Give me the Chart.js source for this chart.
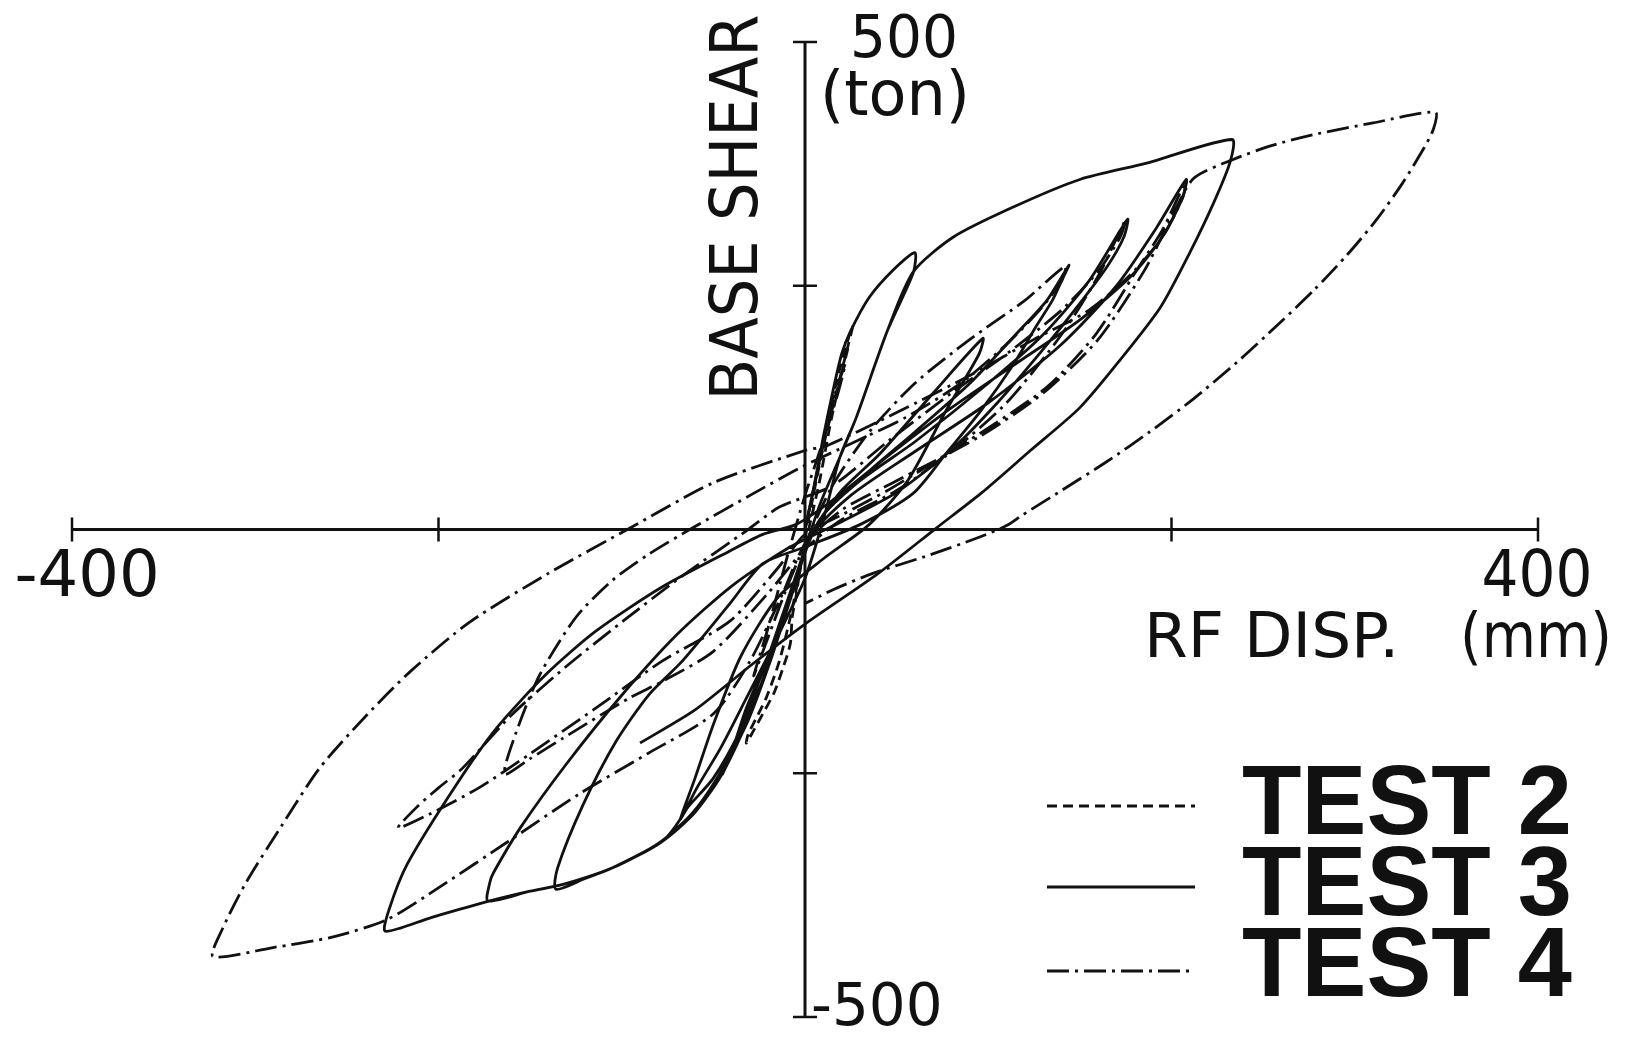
<!DOCTYPE html>
<html>
<head>
<meta charset="utf-8">
<title>Base shear vs RF displacement</title>
<script src="https://cdn.jsdelivr.net/npm/chart.js@4.4.0/dist/chart.umd.min.js"></script>
<style>
  html, body { margin: 0; padding: 0; background: #fff; }
  #wrap { width: 1631px; height: 1038px; }
</style>
</head>
<body>
<div id="wrap"><canvas id="chart" width="1631" height="1038"></canvas></div>
<script>
// [RF disp (mm), base shear (ton)], in loading order
const test2 = [
  [0, 0], [4, 35], [9, 80], [14, 125], [19, 165], [24, 198], [26, 208], [23, 185], [17, 140], [10, 85],
  [4, 30], [0, -10], [-3, -45], [-5, -70], [-7, -90], [-8, -117], [-12, -142], [-17, -168], [-23, -189],
  [-28, -206], [-32, -219], [-31, -210], [-27, -195], [-21, -172], [-14, -135], [-8, -90], [-3, -45],
  [2, 0], [8, 50], [14, 110], [20, 160], [24, 190]
];

const test3 = [
  [0, 0], [5, 45], [10, 95], [15, 140], [20, 180], [25, 204], [35, 238], [48, 266], [60, 284],
  [59, 263], [45, 204], [28, 115], [19, 74], [8, 25], [0, -20], [-10, -75], [-20, -130], [-30, -180], [-38, -220], [-45, -251],
  [-40, -228], [-32, -183], [-18, -121], [-6, -55], [5, 0], [20, 40], [41, 78], [70, 140], [97, 196],
  [95, 180], [77, 122], [56, 50], [35, 5], [10, -30], [-15, -70], [-35, -130], [-50, -200], [-60, -255], [-68, -297],
  [-64, -285], [-50, -255], [-35, -205], [-20, -140], [-8, -70], [0, -20], [12, 20], [35, 60], [60, 100], [90, 150], [115, 200], [132, 235], [144, 271],
  [140, 255], [135, 235], [126, 208], [114, 170], [96, 122], [77, 78], [59, 37], [30, 5], [0, -18], [-23, -35], [-41, -76],
  [-67, -135], [-85, -169], [-103, -217], [-121, -282], [-135, -347], [-136, -369],
  [-120, -358], [-105, -347], [-78, -320], [-60, -290], [-45, -250], [-30, -190], [-15, -110], [-3, -40], [8, 10], [30, 50],
  [60, 90], [100, 150], [130, 200], [155, 255], [176, 318],
  [174, 300], [165, 270], [150, 232], [130, 185], [105, 130], [80, 82], [50, 38], [20, 8], [-10, -20], [-40, -58], [-70, -108],
  [-100, -170], [-130, -240], [-155, -305], [-170, -352], [-172, -362], [-173, -381],
  [-150, -371], [-132, -364], [-105, -347], [-80, -322], [-62, -292], [-48, -255], [-32, -200], [-18, -130], [-6, -60], [4, -5],
  [25, 35], [60, 80], [100, 130], [140, 190], [170, 250], [192, 310], [208, 359],
  [206, 340], [195, 300], [178, 260], [150, 215], [115, 170], [80, 125], [45, 75], [15, 30], [-5, 5], [-23, -5], [-41, -22],
  [-78, -59], [-114, -104], [-141, -148], [-168, -203], [-190, -261], [-217, -343], [-227, -390], [-229, -412],
  [-204, -398], [-172, -381], [-150, -371], [-132, -364], [-105, -347], [-78, -320], [-68, -297], [-59, -265], [-46, -224],
  [-32, -173], [-15, -110], [0, -50], [10, 10], [19, 74], [28, 115], [45, 204], [59, 264], [81, 300], [114, 331], [150, 359],
  [187, 376], [233, 400],
  [232, 377], [223, 335], [210, 284], [194, 228], [172, 174], [150, 125], [123, 81], [96, 37], [72, 2], [40, -45], [0, -97],
  [-30, -140], [-60, -185], [-90, -219]
];

const test4 = [
  [0, 0], [8, 70], [15, 130], [22, 170], [18, 140], [8, 80], [0, 35], [-10, -30], [-20, -100], [-28, -150],
  [-22, -120], [-10, -60], [0, -15], [15, 45], [35, 100], [60, 150], [90, 195], [120, 235], [142, 270],
  [140, 255], [128, 225], [110, 190], [85, 150], [55, 115], [25, 88], [-3, 63], [-30, 35], [-61, 2], [-85, -25],
  [-105, -52], [-125, -90], [-145, -150], [-158, -210], [-164, -251],
  [-150, -235], [-132, -214], [-96, -173], [-77, -155], [-50, -125], [-20, -65], [0, -20], [20, 10], [50, 40], [80, 80],
  [110, 130], [140, 200], [160, 260], [175, 318],
  [172, 300], [160, 265], [140, 225], [110, 180], [80, 140], [45, 90], [15, 45], [-14, 23], [-31, 0], [-68, -49],
  [-100, -95], [-130, -140], [-160, -190], [-187, -245], [-200, -265], [-212, -285], [-222, -306],
  [-205, -292], [-178, -265], [-150, -230], [-114, -183], [-78, -135], [-41, -94], [-15, -40], [0, -5], [20, 15], [45, 40],
  [66, 64], [95, 98], [132, 146], [159, 201], [181, 266], [195, 307], [208, 358],
  [206, 340], [195, 300], [178, 262], [155, 225], [125, 195], [92, 160], [50, 120], [12, 86], [0, 81], [-50, 48], [-95, 2],
  [-140, -45], [-183, -95], [-215, -145], [-240, -192], [-265, -245], [-286, -305], [-305, -362], [-318, -410], [-323, -438],
  [-291, -429], [-258, -418], [-228, -400], [-198, -365], [-162, -320], [-123, -271], [-86, -230], [-50, -189], [-30, -135],
  [-12, -65], [0, -15], [20, 20], [50, 50], [95, 95], [130, 140], [160, 195], [185, 265], [200, 320], [212, 360], [233, 379],
  [255, 394], [280, 406], [310, 417], [344, 428],
  [343, 411], [338, 392], [326, 355], [312, 318], [296, 282], [278, 246], [258, 210], [236, 172], [212, 134], [188, 100],
  [165, 70], [140, 40], [118, 14], [110, 4], [95, -8], [65, -28], [37, -45], [15, -62], [0, -76]
];

const seriesNames = ['TEST 2', 'TEST 3', 'TEST 4'];
const xTicks = [-400, -200, 200, 400];
const yTicks = [500, 250, -250, -500];
const xTickLabels = ['-400', '', '', '400'];
const yTickLabels = ['500', '', '', '-500'];
const xTitle = ['RF DISP.', '(mm)'];
const yTitle = ['BASE SHEAR', '(ton)'];

const ink = '#111';
const labelFont = '"DejaVu Sans", sans-serif';

function toPoints(arr) {
  return arr.map(p => ({ x: p[0], y: p[1] }));
}

function lineSet(label, arr, dash) {
  return {
    label: label,
    data: toPoints(arr),
    showLine: true,
    borderColor: ink,
    borderWidth: 2.8,
    borderDash: dash,
    borderCapStyle: 'butt',
    borderJoinStyle: 'round',
    pointRadius: 0,
    fill: false,
    tension: 0.25
  };
}

function text(ctx, str, x, y, size, maxW, opts) {
  opts = opts || {};
  ctx.font = (opts.bold ? 'bold ' : '') + size + 'px ' + (opts.family || labelFont);
  ctx.textAlign = opts.align || 'left';
  ctx.textBaseline = 'alphabetic';
  ctx.fillText(str, x, y, maxW);
}

// draws the crossing axes, tick marks, labels and the legend from the chart's scales
const crossAxes = {
  id: 'crossAxes',
  beforeDatasetsDraw(chart) {
    const { ctx, scales: { x, y } } = chart;
    const x0 = x.getPixelForValue(0);
    const y0 = y.getPixelForValue(0);
    ctx.save();
    ctx.strokeStyle = ink;
    ctx.lineWidth = 3;
    ctx.beginPath();
    ctx.moveTo(x.getPixelForValue(x.min), y0);
    ctx.lineTo(x.getPixelForValue(x.max), y0);
    ctx.moveTo(x0, y.getPixelForValue(y.max));
    ctx.lineTo(x0, y.getPixelForValue(y.min));
    ctx.stroke();
    ctx.lineWidth = 2.5;
    ctx.beginPath();
    xTicks.forEach(v => {
      const px = x.getPixelForValue(v);
      ctx.moveTo(px, y0 - 12);
      ctx.lineTo(px, y0 + 12);
    });
    yTicks.forEach(v => {
      const py = y.getPixelForValue(v);
      ctx.moveTo(x0 - 12, py);
      ctx.lineTo(x0 + 12, py);
    });
    ctx.stroke();
    ctx.restore();
  },
  afterDraw(chart) {
    const { ctx, scales: { x, y } } = chart;
    const x0 = x.getPixelForValue(0);
    const y0 = y.getPixelForValue(0);
    ctx.save();
    ctx.fillStyle = ink;

    // x tick labels
    xTicks.forEach((v, i) => {
      const s = xTickLabels[i];
      if (!s) return;
      const px = x.getPixelForValue(v);
      text(ctx, s, px + (v < 0 ? 15 : -1), y0 + 66, 64, s.length * 37, { align: 'center' });
    });
    // y tick labels
    yTicks.forEach((v, i) => {
      const s = yTickLabels[i];
      if (!s) return;
      const py = y.getPixelForValue(v);
      if (v > 0) text(ctx, s, x0 + 45, py + 15, 58, 108);
      else text(ctx, s, x0 + 6, py + 8, 58, 148);
    });

    // axis titles
    const xr = x.getPixelForValue(x.max);
    text(ctx, xTitle[0], xr - 394, y0 + 127, 63, 258);
    text(ctx, xTitle[1], xr - 78, y0 + 127, 63, 152);
    text(ctx, yTitle[1], x0 + 15, y.getPixelForValue(y.max) + 73, 62, 153);
    ctx.save();
    ctx.translate(x0 - 48, y0 - 129);
    ctx.rotate(-Math.PI / 2);
    text(ctx, yTitle[0], 0, 0, 66, 386);
    ctx.restore();

    // legend
    const area = chart.chartArea;
    chart.data.datasets.forEach((ds, i) => {
      const base = area.bottom - 183 + i * 81;
      const ly = base - 28 + (i === 2 ? 3 : 0);
      ctx.save();
      ctx.strokeStyle = ink;
      ctx.lineWidth = ds.borderWidth;
      ctx.setLineDash(ds.borderDash || []);
      ctx.beginPath();
      ctx.moveTo(area.right - 491, ly);
      ctx.lineTo(area.right - 343, ly);
      ctx.stroke();
      ctx.restore();
      text(ctx, ds.label, area.right - 296, base, 98, 330, { bold: true, family: '"Liberation Sans", Arial, sans-serif' });
    });
    ctx.restore();
  }
};

new Chart(document.getElementById('chart'), {
  type: 'scatter',
  data: {
    datasets: [
      lineSet(seriesNames[0], test2, [10, 6]),
      lineSet(seriesNames[1], test3, []),
      lineSet(seriesNames[2], test4, [22, 6, 3, 6])
    ]
  },
  options: {
    responsive: false,
    animation: false,
    devicePixelRatio: 1,
    layout: { padding: { left: 72, right: 93, top: 42, bottom: 21 } },
    scales: {
      x: { type: 'linear', min: -400, max: 400, display: false },
      y: { type: 'linear', min: -500, max: 500, display: false }
    },
    plugins: {
      legend: { display: false },
      tooltip: { enabled: false }
    }
  },
  plugins: [crossAxes]
});
</script>
</body>
</html>
